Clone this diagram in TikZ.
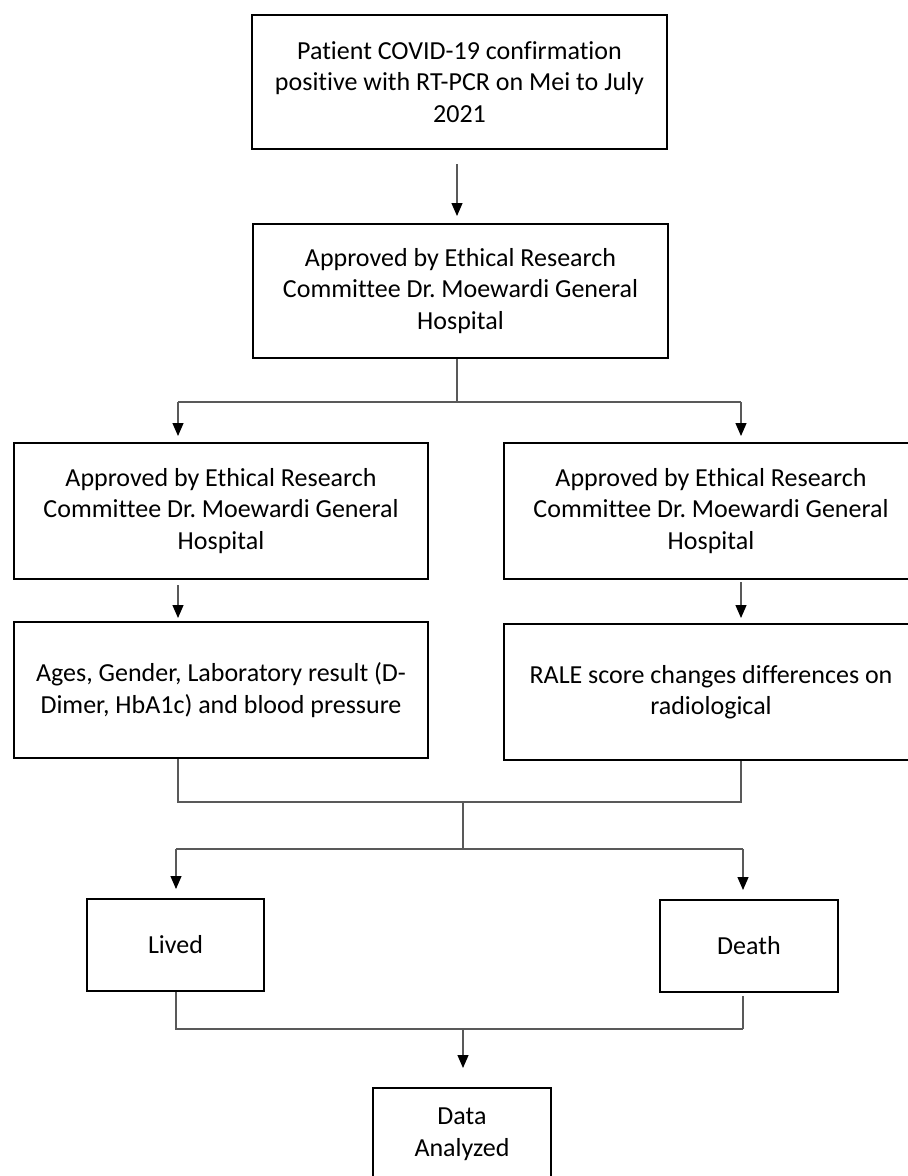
\documentclass[tikz,border=0pt]{standalone}
\usepackage{fontspec}
\setmainfont{Carlito}[Ligatures=NoCommon]
\usetikzlibrary{arrows.meta}
\frenchspacing
\begin{document}
\begin{tikzpicture}[x=1pt,y=-1pt,
  box/.style={draw=black, line width=2pt, align=center, inner sep=0pt,
    font=\fontsize{26}{31.5}\selectfont},
  conn/.style={draw=black!65, line width=1.2pt},
  arr/.style={conn, -{Triangle[length=13pt,width=11pt,black]}}]
\useasboundingbox (0,0) rectangle (908,1176);
\begin{scope}
\clip (0,0) rectangle (908,1176);
\fill[white] (0,0) rectangle (908,1176);
% boxes
\node[box, minimum width=415pt, minimum height=134pt] (b1) at (459.5,82)
  {Patient COVID-19 confirmation\\positive with RT-PCR on Mei to July\\2021};
\node[box, minimum width=415pt, minimum height=134pt] (b2) at (460.5,291)
  {Approved by Ethical Research\\Committee Dr. Moewardi General\\Hospital};
\node[box, minimum width=414pt, minimum height=136pt] (a) at (221,511)
  {Approved by Ethical Research\\Committee Dr. Moewardi General\\Hospital};
\node[box, minimum width=414pt, minimum height=136pt] (bb) at (711,511)
  {Approved by Ethical Research\\Committee Dr. Moewardi General\\Hospital};
\node[box, minimum width=414pt, minimum height=136pt] (c) at (221,690)
  {Ages, Gender, Laboratory result (D-\\Dimer, HbA1c) and blood pressure};
\node[box, minimum width=414pt, minimum height=136pt] (d) at (711,692)
  {RALE score changes differences on\\radiological};
\node[box, minimum width=177pt, minimum height=92pt] (lived) at (175.5,945) {Lived};
\node[box, minimum width=178pt, minimum height=92pt] (death) at (749,946) {Death};
\node[box, minimum width=178pt, minimum height=92pt] (data) at (462,1134) {Data\\Analyzed};
% connectors
\coordinate (m1) at (457,0);
\draw[arr, shorten <=14pt, shorten >=7pt] (b1.south -| m1) -- (b2.north -| m1);
\coordinate (f1) at (457,402);
\coordinate (fl) at (178,402);
\coordinate (fr) at (741,402);
\draw[conn] (b2.south -| f1) -- (f1);
\draw[conn] (fl) -- (fr);
\draw[arr, shorten >=6pt] (fl) -- (fl |- a.north);
\draw[arr, shorten >=6pt] (fr) -- (fr |- bb.north);
\draw[arr, shorten <=5pt, shorten >=3pt] (fl |- a.south) -- (fl |- c.north);
\draw[arr, shorten <=2pt, shorten >=5pt] (fr |- bb.south) -- (fr |- d.north);
\coordinate (j1l) at (178,802);
\coordinate (j1r) at (741,802);
\coordinate (j1) at (463,802);
\coordinate (f2) at (463,849);
\coordinate (f2l) at (176,849);
\coordinate (f2r) at (743,849);
\draw[conn] (c.south -| j1l) -- (j1l) -- (j1r) -- (d.south -| j1r);
\draw[conn] (j1) -- (f2);
\draw[conn] (f2l) -- (f2r);
\draw[arr, shorten >=9pt] (f2l) -- (f2l |- lived.north);
\draw[arr, shorten >=9pt] (f2r) -- (f2r |- death.north);
\coordinate (j2l) at (176,1029);
\coordinate (j2r) at (743,1029);
\coordinate (j2) at (463,1029);
\draw[conn] (lived.south -| j2l) -- (j2l) -- (j2r);
\draw[conn, shorten <=3pt] (j2r |- death.south) -- (j2r);
\draw[arr, shorten >=19pt] (j2) -- (j2 |- data.north);
\end{scope}
\end{tikzpicture}
\end{document}
